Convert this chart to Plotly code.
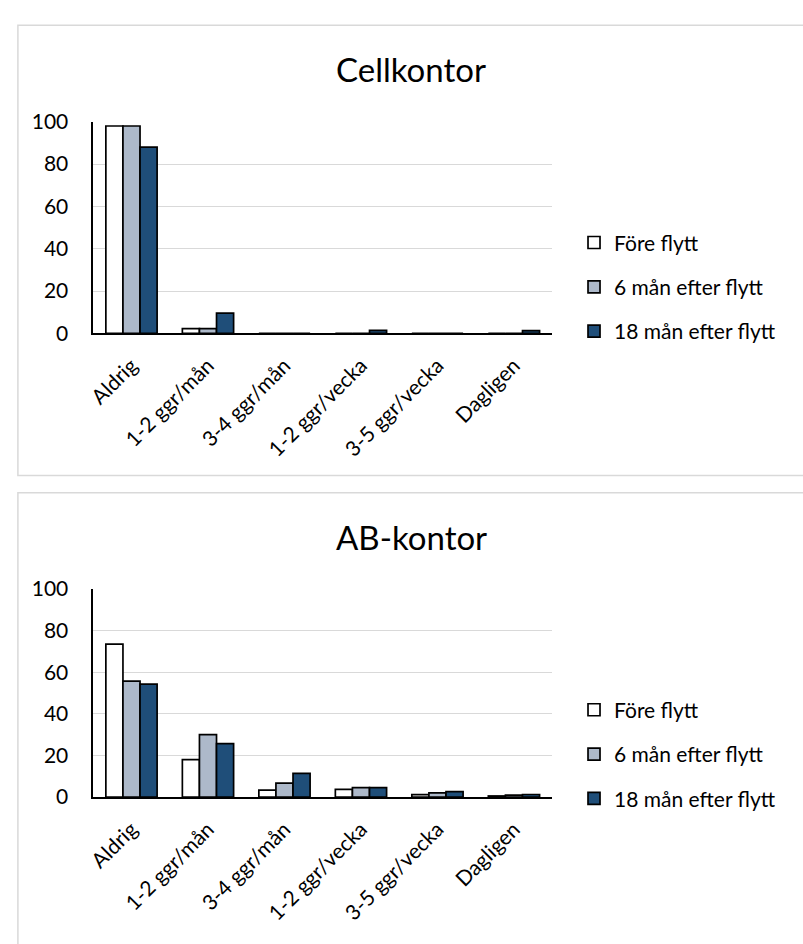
import plotly.graph_objects as go

categories = ["Aldrig", "1-2 ggr/mån", "3-4 ggr/mån", "1-2 ggr/vecka", "3-5 ggr/vecka", "Dagligen"]
series_names = ["Före flytt", "6 mån efter flytt", "18 mån efter flytt"]
series_colors = ["#FFFFFF", "#ADB9CA", "#1F4E79"]

cell_fore = [98, 2.2, 0, 0, 0, 0]
cell_6man = [98, 2.2, 0, 0, 0, 0]
cell_18man = [88, 9.5, 0, 1.4, 0, 1.3]

ab_fore = [73.5, 18, 3.3, 3.7, 1.1, 0.5]
ab_6man = [55.7, 30, 6.7, 4.5, 2.0, 0.9]
ab_18man = [54.3, 25.7, 11.4, 4.5, 2.6, 1.2]

titles = ["Cellkontor", "AB-kontor"]
y_ticks = [0, 20, 40, 60, 80, 100]

W, H = 803, 944
FONT = "Lato"
FS = 21

def px_x(p):
    return p / W

def px_y(p):
    return 1 - p / H

fig = go.Figure()

panels = [
    ("x", "y", "legend", [cell_fore, cell_6man, cell_18man]),
    ("x2", "y2", "legend2", [ab_fore, ab_6man, ab_18man]),
]
for xa, ya, lg, data in panels:
    for name, color, vals in zip(series_names, series_colors, data):
        fig.add_trace(go.Bar(
            x=categories, y=vals, name=name, xaxis=xa, yaxis=ya, legend=lg,
            legendgroup=name + lg,
            marker=dict(color=color, line=dict(color="#000000", width=1.7)),
        ))

axis_common_y = dict(
    range=[0, 100], tickvals=y_ticks, showgrid=True, gridcolor="#D9D9D9", gridwidth=1,
    showline=True, linecolor="#000000", linewidth=1.5, zeroline=False,
    ticks="outside", ticklen=19, tickcolor="rgba(0,0,0,0)",
    tickfont=dict(family=FONT, size=FS, color="#000000"), fixedrange=True,
)
axis_common_x = dict(
    showline=True, linecolor="#000000", linewidth=1.5, showgrid=False,
    ticks="outside", ticklen=10, tickcolor="rgba(0,0,0,0)", tickangle=-45,
    tickfont=dict(family=FONT, size=FS, color="#000000"), fixedrange=True,
)

xdom = [px_x(87), px_x(550)]
fig.update_layout(
    width=W, height=H, margin=dict(l=0, r=0, t=0, b=0),
    paper_bgcolor="#FFFFFF", plot_bgcolor="#FFFFFF",
    barmode="group", bargap=0.33, bargroupgap=0,
    showlegend=True, hovermode=False,
    xaxis=dict(domain=xdom, anchor="y", **axis_common_x),
    yaxis=dict(domain=[px_y(328), px_y(110.7)], anchor="x", **axis_common_y),
    xaxis2=dict(domain=xdom, anchor="y2", **axis_common_x),
    yaxis2=dict(domain=[px_y(804.3), px_y(590.7)], anchor="x2", **axis_common_y),
    legend=dict(x=px_x(572), y=px_y(214), xanchor="left", yanchor="top",
                font=dict(family=FONT, size=FS, color="#000000"),
                traceorder="grouped", tracegroupgap=14, bgcolor="rgba(0,0,0,0)"),
    legend2=dict(x=px_x(572), y=px_y(694), xanchor="left", yanchor="top",
                 font=dict(family=FONT, size=FS, color="#000000"),
                 traceorder="grouped", tracegroupgap=14, bgcolor="rgba(0,0,0,0)"),
)

for t, cy in zip(titles, [57, 537]):
    fig.add_annotation(text=t, x=px_x(408), y=px_y(cy), xref="paper", yref="paper",
                       xanchor="center", yanchor="middle", showarrow=False,
                       font=dict(family=FONT, size=33, color="#000000"))

fig.add_shape(type="rect", xref="paper", yref="paper",
              x0=px_x(11), x1=1.02, y0=px_y(474), y1=px_y(11.5),
              line=dict(color="#D9D9D9", width=1.5), layer="below")
fig.add_shape(type="rect", xref="paper", yref="paper",
              x0=px_x(11), x1=1.02, y0=-0.05, y1=px_y(491.7),
              line=dict(color="#D9D9D9", width=1.5), layer="below")

fig.write_html("out.html", config={"displayModeBar": False},
               post_script="document.body.style.margin='0';document.body.style.overflow='hidden';")
